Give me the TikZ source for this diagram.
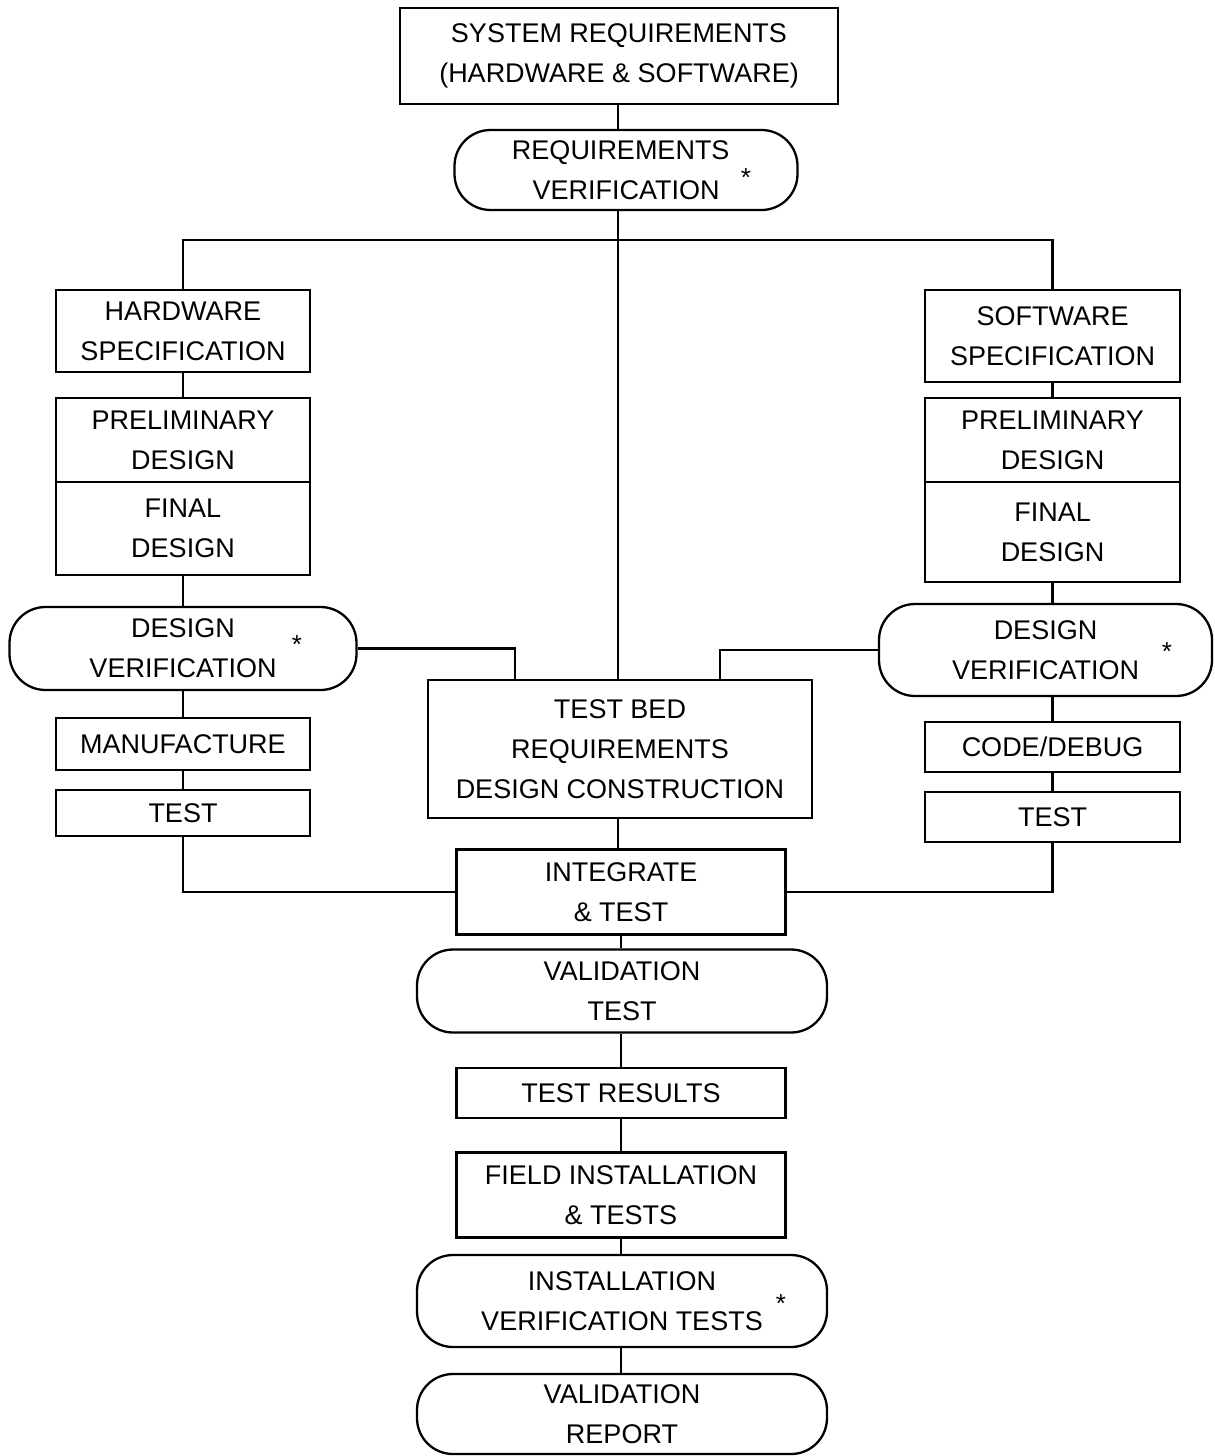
\documentclass[tikz,border=0pt]{standalone}
\usepackage{fontspec}
\setmainfont{Liberation Sans}
\begin{document}
\begin{tikzpicture}[x=1pt,y=-1pt,
  every node/.style={font=\fontsize{27}{40}\selectfont, align=center, inner sep=0pt},
  box/.style={draw, line width=2.3pt, rectangle},
  stad/.style={draw, line width=2.3pt, rectangle, rounded corners=36pt},
  conn/.style={line width=2.3pt},
  star/.style={font=\fontsize{26}{26}\selectfont}]
\useasboundingbox (0,0) rectangle (1215,1456);
% centre column
\node[box, minimum width=438pt, minimum height=96pt] (sys) at (619,56) {SYSTEM REQUIREMENTS\\(HARDWARE \& SOFTWARE)};
\node[stad, minimum width=343pt, minimum height=80pt] (rv) at (626,170) {REQUIREMENTS\phantom{*}\\VERIFICATION};
\node[box, minimum width=384pt, minimum height=138pt] (tb) at (620,749) {TEST BED\\REQUIREMENTS\\DESIGN CONSTRUCTION};
\node[box, minimum width=329pt, minimum height=85pt] (it) at (621,892) {INTEGRATE\\\& TEST};
\node[stad, minimum width=410pt, minimum height=83pt] (vt) at (622,991) {VALIDATION\\TEST};
\node[box, minimum width=329pt, minimum height=50pt] (tr) at (621,1093) {TEST RESULTS};
\node[box, minimum width=329pt, minimum height=85pt] (fi) at (621,1195) {FIELD INSTALLATION\\\& TESTS};
\node[stad, minimum width=410pt, minimum height=92pt] (ivt) at (622,1301) {INSTALLATION\\VERIFICATION TESTS};
\node[stad, minimum width=410pt, minimum height=80pt] (vr) at (622,1414) {VALIDATION\\REPORT};
% hardware column
\node[box, minimum width=254pt, minimum height=82pt] (hws) at (183,331) {HARDWARE\\SPECIFICATION};
\node[box, minimum width=254pt, minimum height=84pt] (hwpd) at (183,440) {PRELIMINARY\\DESIGN};
\node[box, minimum width=254pt, minimum height=93pt] (hwfd) at (183,528.5) {FINAL\\DESIGN};
\node[stad, minimum width=347pt, minimum height=83pt] (hwdv) at (183,648.5) {DESIGN\\VERIFICATION};
\node[box, minimum width=254pt, minimum height=52pt] (man) at (183,744) {MANUFACTURE};
\node[box, minimum width=254pt, minimum height=46pt] (hwt) at (183,813) {TEST};
% software column
\node[box, minimum width=255pt, minimum height=92pt] (sws) at (1052.5,336) {SOFTWARE\\SPECIFICATION};
\node[box, minimum width=255pt, minimum height=84pt] (swpd) at (1052.5,440) {PRELIMINARY\\DESIGN};
\node[box, minimum width=255pt, minimum height=100pt] (swfd) at (1052.5,532) {FINAL\\DESIGN};
\node[stad, minimum width=333pt, minimum height=92pt] (swdv) at (1045.5,650) {DESIGN\\VERIFICATION};
\node[box, minimum width=255pt, minimum height=50pt] (cd) at (1052.5,747) {CODE/DEBUG};
\node[box, minimum width=255pt, minimum height=50pt] (swt) at (1052.5,817) {TEST};
% asterisks
\node[star] (s1) at (746,178) {*};
\node[star] (s2) at (297,645) {*};
\node[star] (s3) at (1167,652) {*};
\node[star] (s4) at (781,1304) {*};
% connectors
\coordinate (bar) at (0,240);
\coordinate (sp) at (618,0);
\coordinate (sq) at (621,0);
\coordinate (j1) at (515,0);
\coordinate (j2) at (720,0);
\draw[conn] (sp |- sys.south) -- (sp |- rv.north);
\draw[conn] (sp |- rv.south) -- (sp |- tb.north);
\draw[conn] (hws.north) -- (hws.north |- bar) -- (sws.north |- bar) -- (sws.north);
\draw[conn] (hws.south) -- (hwpd.north);
\draw[conn] (hwfd.south) -- (hwdv.north);
\draw[conn] (hwdv.south) -- (man.north);
\draw[conn] (man.south) -- (hwt.north);
\draw[conn] (sws.south) -- (swpd.north);
\draw[conn] (swfd.south) -- (swfd.south |- swdv.north);
\draw[conn] (cd.north |- swdv.south) -- (cd.north);
\draw[conn] (cd.south) -- (swt.north);
\draw[conn] (hwdv.east) -| (j1 |- tb.north);
\draw[conn] (swdv.west) -| (j2 |- tb.north);
\draw[conn] (sp |- tb.south) -- (sp |- it.north);
\draw[conn] (hwt.south) |- (it.west);
\draw[conn] (swt.south) |- (it.east);
\draw[conn] (sq |- it.south) -- (sq |- vt.north);
\draw[conn] (sq |- vt.south) -- (sq |- tr.north);
\draw[conn] (sq |- tr.south) -- (sq |- fi.north);
\draw[conn] (sq |- fi.south) -- (sq |- ivt.north);
\draw[conn] (sq |- ivt.south) -- (sq |- vr.north);
\end{tikzpicture}
\end{document}
